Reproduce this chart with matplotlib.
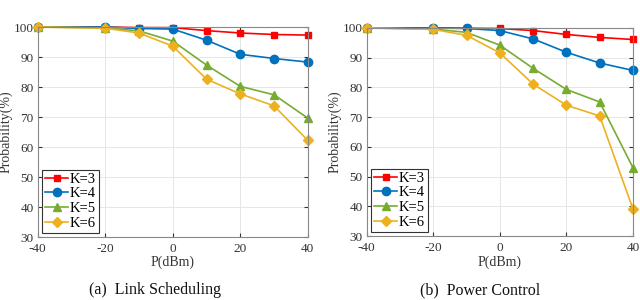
import numpy as np
import matplotlib
matplotlib.use('Agg')
import matplotlib.pyplot as plt

plt.rcParams['font.family'] = ['Liberation Serif', 'DejaVu Serif']
plt.rcParams['axes.unicode_minus'] = False

p_dbm = [-40, -20, -10, 0, 10, 20, 30, 40]
labels = ['K=3', 'K=4', 'K=5', 'K=6']

# (a) Link Scheduling
link_k3 = [100, 100, 99.8, 99.8, 98.8, 98.0, 97.5, 97.3]
link_k4 = [100, 100, 99.5, 99.3, 95.6, 90.9, 89.5, 88.3]
link_k5 = [100, 99.7, 98.7, 95.3, 87.3, 80.2, 77.4, 69.6]
link_k6 = [100, 99.6, 98.0, 93.6, 82.6, 77.7, 73.7, 62.2]

# (b) Power Control
pow_k3 = [100, 100, 99.9, 99.8, 99.1, 97.8, 96.8, 96.1]
pow_k4 = [100, 100, 99.8, 99.1, 96.3, 91.8, 88.2, 85.7]
pow_k5 = [100, 99.6, 98.5, 94.2, 86.4, 79.3, 75.1, 53.0]
pow_k6 = [100, 99.5, 97.5, 91.6, 81.1, 74.0, 70.4, 39.1]

colors = ['#FF0000', '#0072BD', '#77AC30', '#EDB120']
markers = ['s', 'o', '^', 'D']
msizes = [5, 6, 6, 5]

fig = plt.figure(figsize=(6.4, 3.0), dpi=100)
ax1 = fig.add_axes([0.059, 0.21, 0.422, 0.70])
ax2 = fig.add_axes([0.573, 0.213, 0.416, 0.694])

panels = [(ax1, [link_k3, link_k4, link_k5, link_k6], '(a)  Link Scheduling', 0.242),
          (ax2, [pow_k3, pow_k4, pow_k5, pow_k6], '(b)  Power Control', 0.75)]

for ax, series, cap, cx in panels:
    for i in range(len(series)):
        ax.plot(p_dbm, series[i], color=colors[i], marker=markers[i],
                markersize=msizes[i], linewidth=1.2, label=labels[i], clip_on=False)
    ax.set_xlim(-40, 40)
    ax.set_ylim(30, 100)
    ax.set_xticks([-40, -20, 0, 20, 40])
    ax.set_yticks(range(30, 101, 10))
    ax.grid(True, color='#e6e6e6', linewidth=0.7)
    ax.set_axisbelow(True)
    for s in ax.spines.values():
        s.set_color('#888888')
        s.set_linewidth(0.8)
    ax.tick_params(labelsize=9.5, colors='#333333', length=3, direction='in',
                   top=True, right=True)
    ax.tick_params(axis='x', pad=4)
    ax.tick_params(axis='y', pad=3)
    ax.set_xlabel('P(dBm)', fontsize=10, color='#333333', labelpad=1)
    ax.set_ylabel('Probability(%)', fontsize=10, color='#333333', labelpad=1)
    leg = ax.legend(loc='lower left', fontsize=10.5, handlelength=1.6, handletextpad=0.1,
                    borderpad=0.2, labelspacing=0.1, borderaxespad=0.3,
                    fancybox=False, framealpha=1)
    leg.get_frame().set_edgecolor('#333333')
    leg.get_frame().set_linewidth(0.8)
    fig.text(cx, 0.033, cap, ha='center', va='center', fontsize=11.5, color='#111111')

fig.savefig('out.png', dpi=100)
